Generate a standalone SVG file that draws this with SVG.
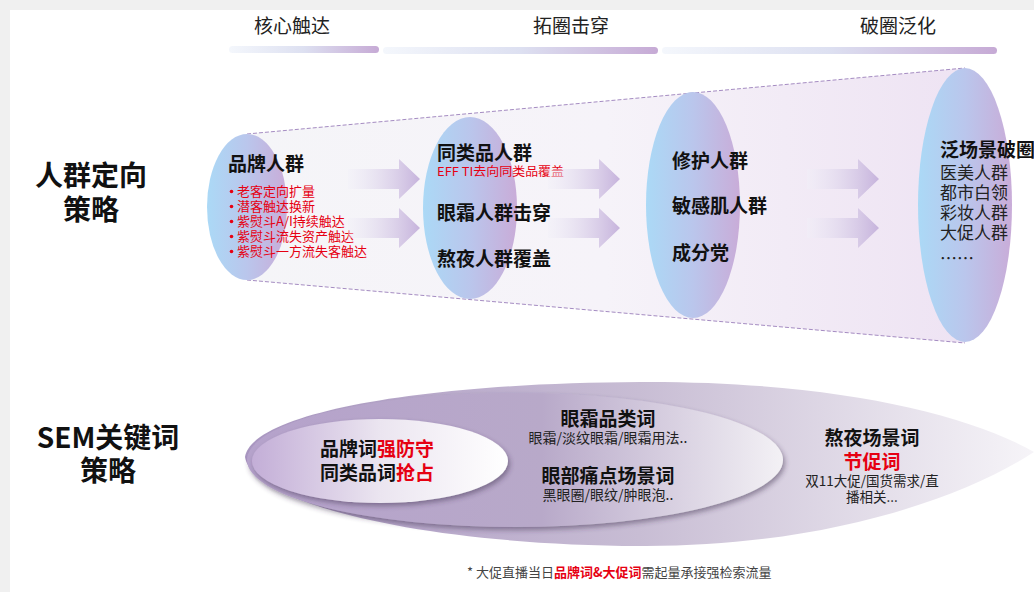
<svg xmlns="http://www.w3.org/2000/svg" width="1034" height="592" viewBox="0 0 1034 592">
<style>
text{font-family:"Noto Sans CJK SC","Liberation Sans",sans-serif;}
.hd{font-size:19px;fill:#222;text-anchor:middle;}
.side{font-size:28px;font-weight:700;fill:#111;text-anchor:middle;}
.b19{font-size:19px;font-weight:700;fill:#111;}
.red13{font-size:13px;fill:#e60012;}
.n17{font-size:17px;fill:#222;}
.mid{text-anchor:middle;}
.sm{font-size:14px;fill:#222;}
.red{fill:#e60012;}
.dash{stroke:#a58cc2;stroke-width:1;stroke-dasharray:4 2;fill:none;}
</style>
<defs>
<linearGradient id="bar" x1="0" y1="0" x2="1" y2="0"><stop offset="0" stop-color="#f4f7fc"/><stop offset="0.5" stop-color="#dde0f1"/><stop offset="1" stop-color="#c6aad5"/></linearGradient>
<linearGradient id="ell" x1="0" y1="0" x2="1" y2="0"><stop offset="0" stop-color="#abd9f6"/><stop offset="0.5" stop-color="#bac6ec"/><stop offset="1" stop-color="#c9acd8"/></linearGradient>
<linearGradient id="fun" gradientUnits="userSpaceOnUse" x1="247" y1="0" x2="965" y2="0"><stop offset="0" stop-color="#f5f5f8"/><stop offset="0.5" stop-color="#f6f3f9"/><stop offset="1" stop-color="#eee3f3"/></linearGradient>
<linearGradient id="arr" x1="0" y1="0" x2="1" y2="0"><stop offset="0" stop-color="#f1f0f8" stop-opacity="0.4"/><stop offset="1" stop-color="#c6b3dc"/></linearGradient>
<linearGradient id="outer" gradientUnits="userSpaceOnUse" x1="245" y1="0" x2="1034" y2="0"><stop offset="0" stop-color="#ab98c3"/><stop offset="0.5" stop-color="#c8bdd4"/><stop offset="1" stop-color="#f6f4f8"/></linearGradient>
<linearGradient id="midg" x1="0" y1="0" x2="1" y2="0"><stop offset="0" stop-color="#b5a2cb"/><stop offset="0.55" stop-color="#b8a9c9"/><stop offset="1" stop-color="#f3f1f5"/></linearGradient>
<linearGradient id="inn" x1="0" y1="0" x2="1" y2="0"><stop offset="0" stop-color="#c3aed7"/><stop offset="0.5" stop-color="#ebe5f0"/><stop offset="1" stop-color="#ffffff"/></linearGradient>
<filter id="sh" x="-10%" y="-20%" width="125%" height="150%"><feDropShadow dx="2" dy="3" stdDeviation="2.5" flood-color="#3a2a4a" flood-opacity="0.45"/></filter>
<path id="arrow" d="M0,-10 H51 V-20 L72,0 L51,20 V10 H0 Z" fill="url(#arr)"/>
</defs>

<rect x="0" y="0" width="1034" height="592" fill="#f0f0f0"/>
<rect x="10" y="10" width="1024" height="582" fill="#ffffff"/>

<g id="header">
<text class="hd" x="292" y="33">核心触达</text>
<text class="hd" x="571" y="33">拓圈击穿</text>
<text class="hd" x="898" y="33">破圈泛化</text>
<rect x="229" y="46" width="150" height="7" rx="3.5" fill="url(#bar)"/>
<rect x="383" y="47" width="275" height="7" rx="3.5" fill="url(#bar)"/>
<rect x="662" y="47" width="335" height="7" rx="3.5" fill="url(#bar)"/>
</g>

<g id="label-crowd">
<text class="side" x="91" y="186">人群定向<tspan x="91" dy="34">策略</tspan></text>
</g>
<g id="label-sem">
<text class="side" x="108" y="448">SEM关键词<tspan x="108" dy="33">策略</tspan></text>
</g>

<g id="funnel">
<polygon points="247,134 965,68 965,343 247,280" fill="url(#fun)"/>
<line class="dash" x1="247" y1="134" x2="965" y2="68"/>
<line class="dash" x1="247" y1="280" x2="965" y2="343"/>
</g>

<g id="node-brand">
<ellipse cx="247" cy="207" rx="40" ry="73" fill="url(#ell)"/>
<text class="b19" x="228" y="171">品牌人群</text>
<g fill="#e60012"><circle cx="231.5" cy="191.5" r="1.8"/><circle cx="231.5" cy="206.5" r="1.8"/><circle cx="231.5" cy="221.5" r="1.8"/><circle cx="231.5" cy="236.5" r="1.8"/><circle cx="231.5" cy="251.5" r="1.8"/></g>
<text class="red13" x="237" y="196">老客定向扩量<tspan x="237" dy="15">潜客触达换新</tspan><tspan x="237" dy="15">紫熨斗A/I持续触达</tspan><tspan x="237" dy="15">紫熨斗流失资产触达</tspan><tspan x="237" dy="15">紫熨斗一方流失客触达</tspan></text>
</g>

<g id="node-similar">
<ellipse cx="470" cy="208" rx="47" ry="91" fill="url(#ell)"/>
<text class="b19" x="437" y="160">同类品人群</text>
<text x="437" y="176" font-size="12" fill="#e60012" textLength="127" lengthAdjust="spacingAndGlyphs">EFF TI去向同类品覆盖</text>
<text class="b19" x="437" y="220">眼霜人群击穿</text>
<text class="b19" x="437" y="266">熬夜人群覆盖</text>
</g>

<g id="node-repair">
<ellipse cx="693" cy="205" rx="47" ry="113" fill="url(#ell)"/>
<text class="b19" x="672" y="168">修护人群</text>
<text class="b19" x="672" y="213">敏感肌人群</text>
<text class="b19" x="672" y="260">成分党</text>
</g>

<g id="node-broad">
<ellipse cx="965" cy="205" rx="47" ry="137" fill="url(#ell)"/>
<text class="b19" x="940" y="157">泛场景破圈</text>
<text class="n17" x="940" y="179">医美人群<tspan x="940" dy="20">都市白领</tspan><tspan x="940" dy="20">彩妆人群</tspan><tspan x="940" dy="20">大促人群</tspan><tspan x="940" dy="26">……</tspan></text>
</g>

<g id="connectors">
<use href="#arrow" x="348" y="179"/>
<use href="#arrow" x="348" y="228"/>
<use href="#arrow" x="548" y="179"/>
<use href="#arrow" x="548" y="228"/>
<use href="#arrow" x="807" y="179"/>
<use href="#arrow" x="807" y="228"/>
</g>

<g id="sem-outer">
<path d="M245,457 C252,413 420,383 640,382 C820,381 960,410 1034,452 C960,500 820,547 640,546 C420,545 252,503 245,457 Z" fill="url(#outer)"/>
<text class="b19 mid" x="872" y="445">熬夜场景词<tspan class="red" x="872" dy="24">节促词</tspan></text>
<text class="mid" x="872" y="486" font-size="13.5" fill="#222">双11大促/国货需求/直<tspan x="872" dy="16">播相关...</tspan></text>
</g>

<g id="sem-middle">
<ellipse cx="515" cy="460" rx="268" ry="67" fill="url(#midg)" filter="url(#sh)"/>
<text class="b19 mid" x="608" y="426">眼霜品类词</text>
<text class="sm mid" x="608" y="443">眼霜/淡纹眼霜/眼霜用法..</text>
<text class="b19 mid" x="608" y="483">眼部痛点场景词</text>
<text class="sm mid" x="608" y="500">黑眼圈/眼纹/肿眼泡..</text>
</g>

<g id="sem-inner">
<ellipse cx="380" cy="461" rx="128" ry="42" fill="url(#inn)" filter="url(#sh)"/>
<text class="b19 mid" x="377" y="456">品牌词<tspan class="red">强防守</tspan><tspan x="377" dy="24" fill="#111">同类品词</tspan><tspan class="red">抢占</tspan></text>
</g>

<g id="footnote">
<text x="467" y="577" font-size="13" fill="#444">* 大促直播当日<tspan fill="#e60012" font-weight="700">品牌词&amp;大促词</tspan>需起量承接强检索流量</text>
</g>
</svg>
